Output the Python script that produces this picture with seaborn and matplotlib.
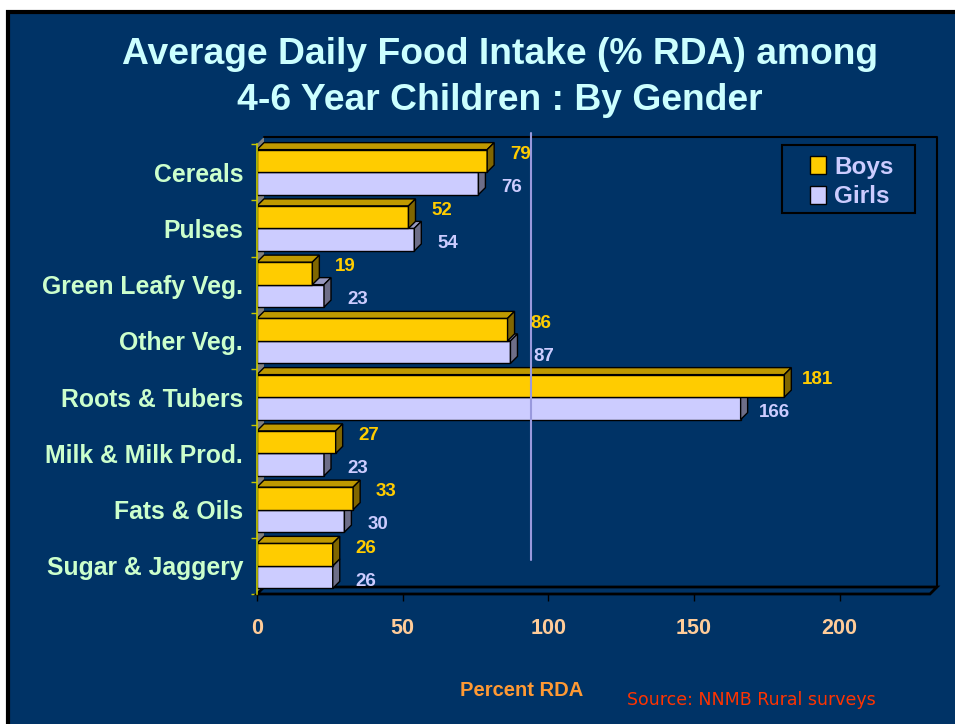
import matplotlib
matplotlib.use("Agg")
import matplotlib.pyplot as plt
from matplotlib.patches import Polygon, Rectangle, Patch
import pandas as pd
import seaborn as sns

# Average daily food intake as % of RDA, children aged 4-6, by gender
categories = ["Cereals", "Pulses", "Green Leafy Veg.", "Other Veg.", "Roots & Tubers",
              "Milk & Milk Prod.", "Fats & Oils", "Sugar & Jaggery"]
boys = [79, 52, 19, 86, 181, 27, 33, 26]
girls = [76, 54, 23, 87, 166, 23, 30, 26]
genders = ["Boys", "Girls"]
x_ticks = [0, 50, 100, 150, 200]
rda_marker = 94

df = pd.DataFrame({
    "food": categories * 2,
    "pct": boys + girls,
    "gender": [genders[0]] * len(boys) + [genders[1]] * len(girls),
})

BG = "#003366"
front = {"Boys": "#FFCC00", "Girls": "#CCCCFF"}
top_c = {"Boys": "#BF9900", "Girls": "#9999BF"}
side_c = {"Boys": "#806600", "Girls": "#6E6E88"}
label_c = {"Boys": "#FFCC00", "Girls": "#CCCCFF"}

sns.set_style("white")
plt.rcParams["font.family"] = ["Liberation Sans", "DejaVu Sans"]
plt.rcParams["font.weight"] = "bold"

W, H = 955, 724
fig = plt.figure(figsize=(W / 100, H / 100), dpi=100)
fig.patch.set_facecolor("white")

# slide panel
fig.patches.append(Rectangle((8 / W, -0.1), 1.1, (H - 12) / H + 0.1,
                             transform=fig.transFigure, facecolor=BG,
                             edgecolor="black", lw=3, zorder=-10))

XMAX = 231
ax = fig.add_axes([257 / W, 130 / H, 673 / W, 450 / H])
ax.set_zorder(2)
ax.set_facecolor("none")
sns.barplot(data=df, y="food", x="pct", hue="gender", order=categories,
            hue_order=genders, orient="h", palette=front, saturation=1,
            width=0.8, edgecolor="black", linewidth=1, legend=False, ax=ax)
ax.set_xlim(0, XMAX)
ax.set_ylim(len(categories) - 0.5, -0.5)

# depth of the 3-D effect, converted from pixels to data units
DEPTH = 7
inv = ax.transData.inverted()
ox, oy = ax.transData.transform((0, 0))
ddx, ddy = inv.transform((ox + DEPTH, oy + DEPTH))

# left wall, back wall and floor
y_top, y_bot = -0.5, len(categories) - 0.5
ax.add_patch(Polygon([(0, y_top), (ddx, y_top + ddy), (ddx, y_bot + ddy), (0, y_bot)],
                     closed=True, facecolor="#808080", edgecolor="none",
                     zorder=1, clip_on=False))
ax.add_patch(Polygon([(0, y_bot), (XMAX, y_bot), (XMAX + ddx, y_bot + ddy), (ddx, y_bot + ddy)],
                     closed=True, facecolor=BG, edgecolor="black", lw=2,
                     zorder=1.5, clip_on=False))
ax.plot([ddx, XMAX + ddx, XMAX + ddx], [y_top + ddy, y_top + ddy, y_bot + ddy],
        color="black", lw=1.5, clip_on=False, zorder=1.5)

n = len(categories)
for i, bar in enumerate(list(ax.patches)[:2 * n]):
    g = genders[i // n]
    z = 4 if g == "Boys" else 3
    bar.set_zorder(z)
    x0, w = bar.get_x(), bar.get_width()
    y0, h = bar.get_y(), bar.get_height()
    yt, yb = min(y0, y0 + h), max(y0, y0 + h)
    x1 = x0 + w
    ax.add_patch(Polygon([(x0, yt), (x1, yt), (x1 + ddx, yt + ddy), (x0 + ddx, yt + ddy)],
                         closed=True, facecolor=top_c[g], edgecolor="black", lw=1,
                         zorder=z, clip_on=False))
    ax.add_patch(Polygon([(x1, yt), (x1, yb), (x1 + ddx, yb + ddy), (x1 + ddx, yt + ddy)],
                         closed=True, facecolor=side_c[g], edgecolor="black", lw=1,
                         zorder=z, clip_on=False))
    val = (boys if g == "Boys" else girls)[i % n]
    dy_pt = 4.6 if g == "Boys" else -2.9
    ax.annotate(f"{val}", xy=(val, (yt + yb) / 2), xytext=(24, dy_pt),
                textcoords="offset points", ha="center", va="center",
                color=label_c[g], fontsize=13.5, fontweight="bold", zorder=6,
                annotation_clip=False)

# reference line
ax.plot([rda_marker, rda_marker], [-0.7, 6.89], color="#9999DD", lw=1.5,
        clip_on=False, zorder=5)

# axes styling
for s in ["top", "right", "bottom"]:
    ax.spines[s].set_visible(False)
ax.spines["left"].set_color("#C8C800")
ax.spines["left"].set_linewidth(1.2)
ax.spines["left"].set_zorder(5)
ax.set_xticks(x_ticks)
ax.set_xticklabels([str(t) for t in x_ticks])
ax.tick_params(axis="x", bottom=True, length=5, width=1, color="black",
               pad=12, labelsize=15.5, labelcolor="#FFCC99")
ax.set_yticks(range(n))
ax.set_yticklabels(categories)
ax.tick_params(axis="y", which="major", length=0, pad=10, labelsize=17.8,
               labelcolor="#CCFFCC")
ax.set_yticks([k - 0.5 for k in range(n + 1)], minor=True)
ax.tick_params(axis="y", which="minor", left=True, length=4, width=1, color="#C8C800")
for t in ax.get_xticklabels() + ax.get_yticklabels():
    t.set_fontweight("bold")
ax.set_xlabel("")
ax.set_ylabel("")

# title
fig.text(500 / W, 1 - 54 / H, "Average Daily Food Intake (% RDA) among",
         ha="center", va="center", color="#CCFFFF", fontsize=26.8, fontweight="bold")
fig.text(500 / W, 1 - 100 / H, "4-6 Year Children : By Gender",
         ha="center", va="center", color="#CCFFFF", fontsize=26.8, fontweight="bold")

# legend: frame drawn separately, entries placed inside it
fig.patches.append(Rectangle((782 / W, 1 - 213 / H), 133 / W, 68 / H,
                             transform=fig.transFigure, facecolor=BG,
                             edgecolor="black", lw=1.5, zorder=3))
handles = [Patch(facecolor=front[g], edgecolor="black", lw=1) for g in genders]
leg = fig.legend(handles, genders, loc="upper left",
                 bbox_to_anchor=(805 / W, 1 - 151 / H), borderaxespad=0,
                 frameon=False, fontsize=17.5, handlelength=0.65,
                 handleheight=0.75, handletextpad=0.35, labelspacing=0.26,
                 borderpad=0.2)
leg.set_zorder(4)
for t in leg.get_texts():
    t.set_color("#CCCCFF")
    t.set_fontweight("bold")

fig.text(522 / W, 1 - 690 / H, "Percent RDA", ha="center", va="center",
         color="#FF9933", fontsize=14.5, fontweight="bold")
fig.text(751 / W, 1 - 700 / H, "Source: NNMB Rural surveys", ha="center",
         va="center", color="#FF3300", fontsize=12.5, fontweight="normal",
         family=["DejaVu Sans"])

fig.savefig("out.png", dpi=100, facecolor=fig.get_facecolor())
